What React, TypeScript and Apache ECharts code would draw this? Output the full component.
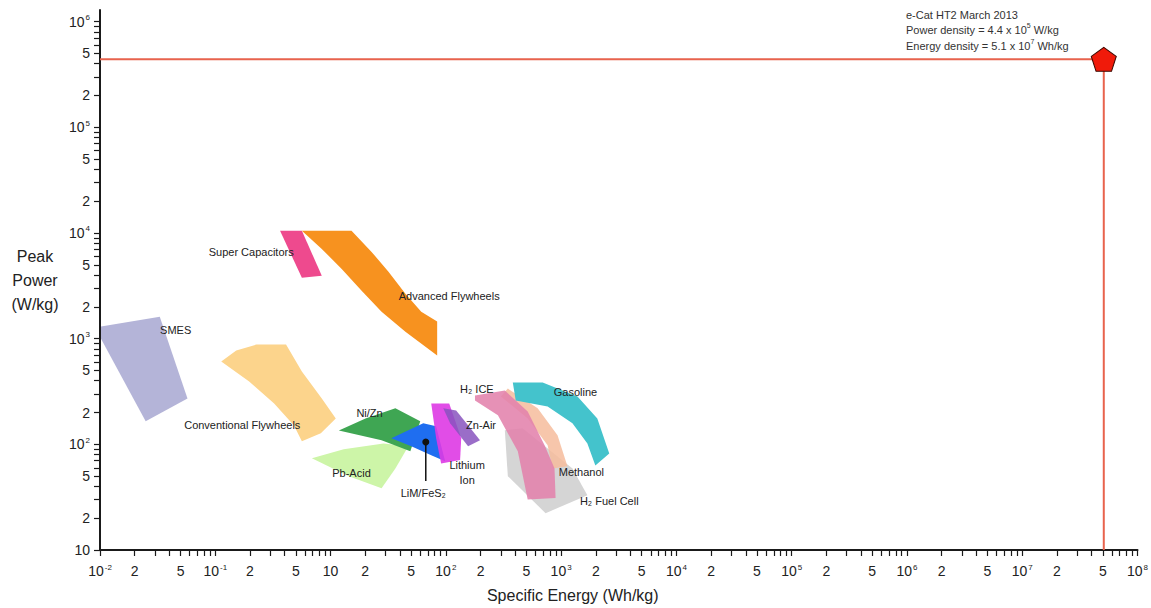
import React, { useEffect, useRef } from "react";
import * as echarts from "echarts";

// Axis decades as printed on the original chart (note: the x axis jumps 10^-1 -> 10)
const X_DECADE_EXPONENTS = [-2, -1, 1, 2, 3, 4, 5, 6, 7, 8];
const Y_DECADE_EXPONENTS = [1, 2, 3, 4, 5, 6];
const MINOR_LABEL_MULTIPLES = [2, 5];
const MINOR_TICK_MULTIPLES = [1, 2, 3, 4, 5, 6, 7, 8, 9];

// Regions: [specific energy Wh/kg, peak power W/kg]
const SMES = [[0.0102, 1300], [0.033, 1610], [0.0574, 272], [0.0249, 165], [0.0102, 1000]];
const CONVENTIONAL_FLYWHEELS = [[0.127, 607], [0.231, 771], [0.512, 878], [1.69, 878], [3.18, 488], [7.05, 272], [11.1, 176], [6.78, 127], [3.18, 107], [2.32, 151], [1.05, 244], [0.387, 393]];
const SUPER_CAPACITORS = [[1.33, 10500], [3.18, 10500], [7.05, 3930], [3.18, 3760]];
const ADVANCED_FLYWHEELS = [[3.18, 10500], [15.2, 10500], [22.7, 6620], [31.8, 4290], [44.6, 2660], [61.2, 1800], [84.1, 1450], [84.1, 692], [44.6, 1160], [27.7, 1800], [18.6, 2840], [12.5, 4570], [7.05, 7060]];
const PB_ACID = [[4.74, 74], [13, 90], [28.8, 102], [47.3, 96], [36.5, 59], [27.7, 38.5], [14.4, 50]];
const NI_ZN = [[11.8, 135], [20.1, 176], [36.5, 219], [60, 165], [49.2, 86], [27.7, 109]];
const LIM_FES2 = [[33.7, 114], [63.7, 158], [82.4, 148], [98.6, 69], [74.7, 79], [50.2, 96]];
const LITHIUM_ION = [[74.7, 244], [107, 244], [136, 114], [133, 71], [91, 66], [82.4, 114]];
const ZN_AIR = [[95, 219], [123, 209], [198, 109], [156, 96], [109, 158]];
const H2_FUEL_CELL = [[325, 136], [464, 142], [1254, 59], [1690, 33], [733, 22.3], [345, 50]];
const METHANOL = [[345, 337], [626, 219], [931, 122], [1135, 62], [843, 59], [764, 98], [513, 176], [300, 284]];
const H2_ICE = [[179, 290], [325, 323], [513, 205], [719, 98], [877, 59], [895, 31], [513, 30], [421, 86], [283, 188], [179, 260]];
const GASOLINE = [[381, 385], [692, 385], [1387, 284], [2061, 176], [2616, 82], [1982, 63], [1690, 102], [1254, 158], [764, 228], [404, 260]];

const REGION_SHAPES = [SMES, CONVENTIONAL_FLYWHEELS, SUPER_CAPACITORS, ADVANCED_FLYWHEELS, PB_ACID, NI_ZN, LIM_FES2, LITHIUM_ION, ZN_AIR, H2_FUEL_CELL, METHANOL, H2_ICE, GASOLINE];
const REGION_COLORS = ["#b4b4d8", "#fcd48c", "#ee4a8e", "#f7921f", "#cdf5a8", "#3fa653", "#1f6ef0", "rgba(222,58,228,0.9)", "rgba(136,84,190,0.85)", "#d5d5d5", "rgba(246,188,156,0.85)", "rgba(226,130,172,0.88)", "#44c3cc"];

// Region labels
const LABEL_TEXTS = ["Super Capacitors", "Advanced Flywheels", "SMES", "Conventional Flywheels", "Ni/Zn", "Pb-Acid", "LiM/FeS₂", "Lithium\nIon", "Zn-Air", "H₂ ICE", "Gasoline", "Methanol", "H₂ Fuel Cell"];
const LABEL_ENERGY = [0.42, 107, 0.0453, 0.294, 21.8, 15.2, 63.7, 153, 202, 186, 1331, 1500, 2616];
const LABEL_POWER = [6620, 2546, 1216, 154, 200, 53.2, 34.5, 53.8, 151, 337, 310, 54.4, 29.0];

// LiM/FeS2 marker and its leader
const LIM_DOT = [67, 105];
const LIM_LEADER_END = [67, 45];

// e-Cat HT2 point
const ECAT_ENERGY = 5.1e7;
const ECAT_POWER = 4.4e5;
const ECAT_TITLE = "e-Cat HT2 March 2013";

const X_MIN_ENERGY = 0.01;
const Y_MIN_POWER = 10;

const FONT = "'Liberation Sans', Arial, Helvetica, sans-serif";

function xPos(e: number): number {
  const l = Math.log10(e);
  const d = X_DECADE_EXPONENTS;
  if (l <= d[0]) return 0;
  for (let i = 0; i < d.length - 1; i++) {
    if (l <= d[i + 1]) return i + (l - d[i]) / (d[i + 1] - d[i]);
  }
  return d.length - 1;
}
function yPos(p: number): number {
  return Math.log10(p);
}

const X_MAX = X_DECADE_EXPONENTS.length - 1;
const Y_MIN = Y_DECADE_EXPONENTS[0];
const Y_MAX_DECADE = Y_DECADE_EXPONENTS[Y_DECADE_EXPONENTS.length - 1];

function buildLabelValues(start: number, count: number): number[] {
  const out: number[] = [];
  for (let i = 0; i < count; i++) {
    out.push(start + i);
    MINOR_LABEL_MULTIPLES.forEach((m) => out.push(start + i + Math.log10(m)));
  }
  out.push(start + count);
  return out;
}
function buildTickValues(start: number, count: number): number[] {
  const out: number[] = [];
  for (let i = 0; i < count; i++) {
    MINOR_TICK_MULTIPLES.forEach((m) => out.push(start + i + Math.log10(m)));
  }
  out.push(start + count);
  return out;
}

function labelFor(v: number, exps: number[], base: number): string {
  const i = Math.round(v);
  if (Math.abs(v - i) < 1e-6) {
    const e = exps[i - base];
    return e === 1 ? "{b|10}" : `{b|10}{s|${e}}`;
  }
  const frac = v - Math.floor(v);
  return frac < 0.5 ? "{b|2}" : "{b|5}";
}

const AXIS_RICH = {
  b: { fontSize: 14, color: "#222", fontFamily: FONT, lineHeight: 16 },
  s: { fontSize: 8, color: "#222", fontFamily: FONT, verticalAlign: "top", lineHeight: 10, padding: [0, 0, 0, 1] },
};

export default function App() {
  const ref = useRef<HTMLDivElement>(null);
  useEffect(() => {
    if (!ref.current) return;
    const chart = echarts.init(ref.current, undefined, { renderer: "svg" });

    const ecatX = xPos(ECAT_ENERGY);
    const ecatY = yPos(ECAT_POWER);
    const powExp = Math.floor(Math.log10(ECAT_POWER));
    const enExp = Math.floor(Math.log10(ECAT_ENERGY));
    const powMant = (ECAT_POWER / Math.pow(10, powExp)).toFixed(1);
    const enMant = (ECAT_ENERGY / Math.pow(10, enExp)).toFixed(1);

    const option: any = {
      animation: false,
      backgroundColor: "#ffffff",
      textStyle: { fontFamily: FONT },
      grid: { left: 100, right: 8, top: 10, bottom: 56, containLabel: false },
      xAxis: {
        type: "value",
        min: 0,
        max: X_MAX,
        axisLine: { show: true, onZero: false, lineStyle: { color: "#1a1a1a", width: 2 } },
        axisTick: { show: true, customValues: buildTickValues(0, X_MAX), length: 6, lineStyle: { color: "#1a1a1a", width: 1.2 } },
        axisLabel: {
          customValues: buildLabelValues(0, X_MAX),
          formatter: (v: number) => labelFor(v, X_DECADE_EXPONENTS, 0),
          rich: AXIS_RICH,
          margin: 13,
        },
        splitLine: { show: false },
        name: "Specific Energy (Wh/kg)",
        nameLocation: "middle",
        nameGap: 37,
        nameTextStyle: { fontSize: 16, color: "#222", fontFamily: FONT, padding: [0, 92, 0, 0] },
      },
      yAxis: {
        type: "value",
        min: Y_MIN,
        max: Y_MAX_DECADE + 0.11,
        axisLine: { show: true, onZero: false, lineStyle: { color: "#1a1a1a", width: 2 } },
        axisTick: { show: true, customValues: buildTickValues(Y_MIN, Y_MAX_DECADE - Y_MIN), length: 6, lineStyle: { color: "#1a1a1a", width: 1.2 } },
        axisLabel: {
          customValues: buildLabelValues(Y_MIN, Y_MAX_DECADE - Y_MIN),
          formatter: (v: number) => labelFor(v, Y_DECADE_EXPONENTS, Y_MIN),
          rich: AXIS_RICH,
          margin: 10,
        },
        splitLine: { show: false },
        name: "Peak\nPower\n(W/kg)",
        nameLocation: "middle",
        nameRotate: 0,
        nameGap: 65,
        nameTextStyle: { fontSize: 16, color: "#222", fontFamily: FONT, align: "center", verticalAlign: "middle", lineHeight: 24, padding: [0, 0, 38, 0] },
      },
      graphic: [
        {
          type: "text",
          left: 906,
          top: 9,
          style: {
            text: [
              `{t|${ECAT_TITLE}}`,
              `{t|Power density = ${powMant} x 10}{s|${powExp}}{t| W/kg}`,
              `{t|Energy density = ${enMant} x 10}{s|${enExp}}{t| Wh/kg}`,
            ].join("\n"),
            rich: {
              t: { fontSize: 11, fill: "#333", fontFamily: FONT, lineHeight: 15.5 },
              s: { fontSize: 7, fill: "#333", fontFamily: FONT, verticalAlign: "top", lineHeight: 9 },
            },
          },
        },
      ],
      series: [
        {
          type: "custom",
          silent: true,
          clip: false,
          z: 2,
          data: REGION_SHAPES.map((s) => [xPos(s[0][0]), yPos(s[0][1])]),
          renderItem: (params: any, api: any) => {
            const shape = REGION_SHAPES[params.dataIndex];
            const pts = shape.map(([e, p]) => api.coord([xPos(e), yPos(p)]));
            return { type: "polygon", shape: { points: pts }, style: { fill: REGION_COLORS[params.dataIndex], stroke: "none" } };
          },
        },
        {
          type: "line",
          silent: true,
          symbol: "none",
          z: 3,
          lineStyle: { color: "#111", width: 1.5 },
          data: [
            [xPos(LIM_DOT[0]), yPos(LIM_DOT[1])],
            [xPos(LIM_LEADER_END[0]), yPos(LIM_LEADER_END[1])],
          ],
        },
        {
          type: "scatter",
          silent: true,
          z: 4,
          symbolSize: 7,
          itemStyle: { color: "#111", opacity: 1 },
          data: [[xPos(LIM_DOT[0]), yPos(LIM_DOT[1])]],
        },
        {
          type: "custom",
          silent: true,
          clip: false,
          z: 5,
          data: LABEL_TEXTS.map((t, i) => [xPos(LABEL_ENERGY[i]), yPos(LABEL_POWER[i])]),
          renderItem: (params: any, api: any) => {
            const i = params.dataIndex;
            const pt = api.coord([xPos(LABEL_ENERGY[i]), yPos(LABEL_POWER[i])]);
            return {
              type: "text",
              x: pt[0],
              y: pt[1],
              style: {
                text: LABEL_TEXTS[i],
                fill: "#222",
                font: `11px ${FONT}`,
                fontSize: 11,
                fontFamily: FONT,
                lineHeight: 15,
                align: "center",
                verticalAlign: "middle",
                textAlign: "center",
                textVerticalAlign: "middle",
              },
            };
          },
        },
        {
          type: "line",
          silent: true,
          symbol: "none",
          z: 6,
          lineStyle: { color: "#e8634d", width: 2 },
          data: [
            [xPos(X_MIN_ENERGY), ecatY],
            [ecatX, ecatY],
            [ecatX, yPos(Y_MIN_POWER)],
          ],
        },
        {
          type: "scatter",
          silent: true,
          z: 7,
          symbol: "path://M0,-10 L9.51,-3.09 L5.88,8.09 L-5.88,8.09 L-9.51,-3.09 Z",
          symbolSize: [25, 24],
          itemStyle: { color: "#f01a0a", borderColor: "#3a0800", borderWidth: 1, opacity: 1 },
          data: [[ecatX, ecatY]],
        },
      ],
    };
    chart.setOption(option);
    return () => chart.dispose();
  }, []);
  return <div ref={ref} style={{ position: "fixed", left: 0, top: 0, width: 1151, height: 608 }} />;
}
